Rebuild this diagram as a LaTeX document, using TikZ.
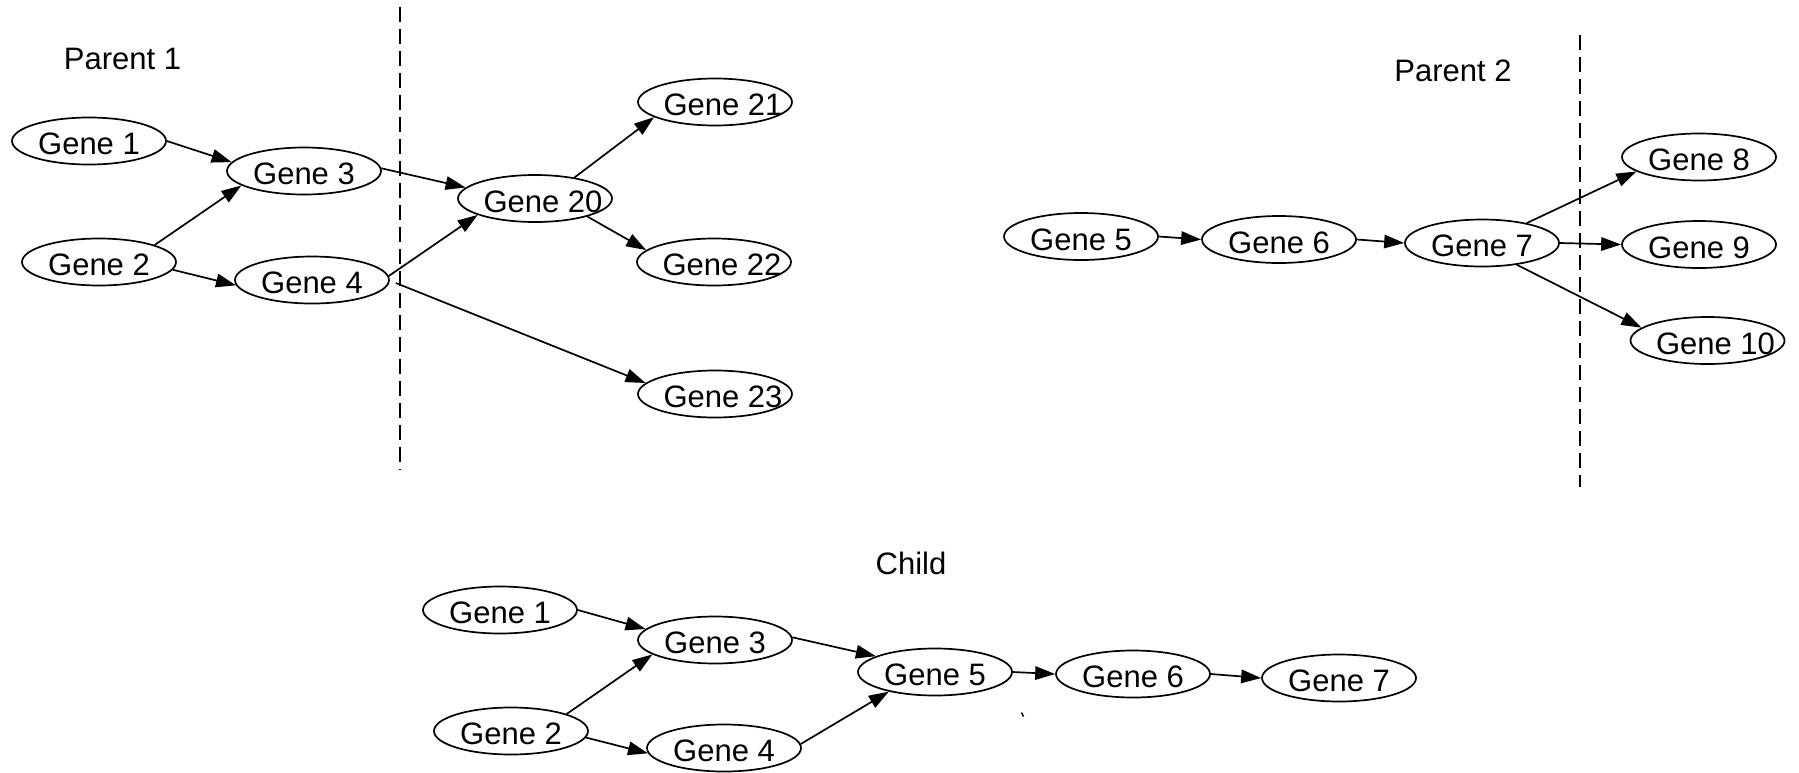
\documentclass[tikz,border=0pt]{standalone}
\usepackage{fontspec}
\setmainfont{Liberation Sans}
\usetikzlibrary{shapes.geometric,arrows.meta}

% gene labels are set in boxes of no size so every ellipse keeps one size;
% the text is lowered so its capitals sit just below the ellipse centre
\newcommand{\gname}[1]{\makebox[0pt]{\raisebox{-13.6pt}[0pt][0pt]{#1}}}
\newcommand{\gnamer}[1]{\makebox[0pt]{\hspace{16pt}\raisebox{-13.6pt}[0pt][0pt]{#1}}}

\begin{document}
\begin{tikzpicture}[x=1pt,y=-1pt,
  gene/.style={ellipse, draw, line width=1.7pt, minimum width=154pt,
    minimum height=47pt, inner sep=0pt, font=\fontsize{31}{36}\selectfont},
  caption/.style={font=\fontsize{31}{36}\selectfont, inner sep=0pt},
  conn/.style={line width=1.7pt, -{Triangle[length=20pt,width=13.5pt]}},
  cutline/.style={line width=1.8pt, dash pattern=on 15pt off 7pt}]

\useasboundingbox (0,0) rectangle (1799,772);

% ---------- Parent 1 ----------
\node[caption] (p1) at (122.5,58.5) {Parent 1};
\coordinate (cutAtop) at (400,7);
\coordinate (cutAbot) at (400,470);
\draw[cutline] (cutAtop) -- (cutAbot);

\node[gene] (a1)  at (89,141)    {\gname{Gene 1}};
\node[gene] (a3)  at (304,171)   {\gname{Gene 3}};
\node[gene] (a2)  at (99,262)    {\gname{Gene 2}};
\node[gene] (a4)  at (312,280)   {\gname{Gene 4}};
\node[gene] (a20) at (535,198.5) {\gnamer{Gene 20}};
\node[gene] (a21) at (715,102)   {\gnamer{Gene 21}};
\node[gene] (a22) at (714,262)   {\gnamer{Gene 22}};
\node[gene] (a23) at (715,394)   {\gnamer{Gene 23}};

\draw[conn] (a1.east)  -- (a3.173);
\draw[conn] (a2.17)    -- (a3.-167);
\draw[conn] (a2.-6)    -- (a4.184);
\draw[conn] (a3.2)     -- (a20.171);
\draw[conn] (a4.3)     -- (a20.-164);
\draw[conn] ([shift={(6pt,-3pt)}]a4.east) -- (a23.171);
\draw[conn] (a20.28)   -- (a21.-166);
\draw[conn] (a20.-19)  -- (a22.170);

% ---------- Parent 2 ----------
\node[caption] (p2) at (1453,71) {Parent 2};
\coordinate (cutBtop) at (1580,35);
\coordinate (cutBbot) at (1580,487);
\draw[cutline] (cutBtop) -- (cutBbot);

\node[gene] (b5)  at (1081,236.5) {\gname{Gene 5}};
\node[gene] (b6)  at (1279,239.5) {\gname{Gene 6}};
\node[gene] (b7)  at (1482,243)   {\gname{Gene 7}};
\node[gene] (b8)  at (1699,157)   {\gname{Gene 8}};
\node[gene] (b9)  at (1699,244.5) {\gname{Gene 9}};
\node[gene] (b10) at (1707.5,340.5) {\gnamer{Gene 10}};

\draw[conn] (b5.east) -- (b6.west);
\draw[conn] (b6.east) -- (b7.west);
\draw[conn] (b7.24)   -- (b8.-167);
\draw[conn] (b7.east) -- (b9.west);
\draw[conn] (b7.-32)  -- (b10.169);

% ---------- Child ----------
\node[caption] (ch) at (911,563) {Child};

\node[gene] (c1) at (500,610)  {\gname{Gene 1}};
\node[gene] (c3) at (715,640)  {\gname{Gene 3}};
\node[gene] (c2) at (511,731)  {\gname{Gene 2}};
\node[gene] (c4) at (724,748)  {\gname{Gene 4}};
\node[gene] (c5) at (935,672)  {\gname{Gene 5}};
\node[gene] (c6) at (1133,674) {\gname{Gene 6}};
\node[gene] (c7) at (1339,678) {\gname{Gene 7}};

\draw[conn] (c1.east) -- (c3.171);
\draw[conn] (c2.17)   -- (c3.-167);
\draw[conn] (c2.-5)   -- (c4.184);
\draw[conn] (c3.2)    -- (c5.165);
\draw[conn] (c4.3)    -- (c5.-157);
\draw[conn] (c5.east) -- (c6.west);
\draw[conn] (c6.east) -- (c7.west);

% small stroke below the child chain
\draw[line width=1.5pt] (1021.5,712.5) -- (1023.5,716.5);
\end{tikzpicture}
\end{document}
